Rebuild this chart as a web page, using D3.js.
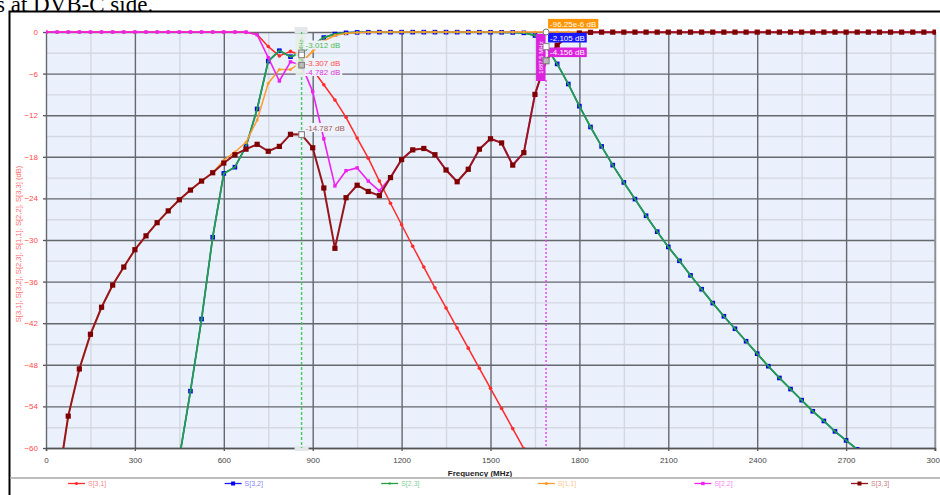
<!DOCTYPE html>
<html>
<head>
<meta charset="utf-8">
<script src="https://cdn.jsdelivr.net/npm/d3@7"></script>
<style>
  html, body { margin: 0; padding: 0; background: #fff; overflow: hidden; }
  svg { display: block; font-family: "Liberation Sans", Arial, sans-serif; }
</style>
</head>
<body>
<svg id="chart" width="940" height="495"></svg>
<script>
// Frequency grid of the sweep (MHz)
const freqMHz = [
  0, 37.5, 75, 112.5, 150, 187.5, 225, 262.5, 300, 337.5,
  375, 412.5, 450, 487.5, 525, 562.5, 600, 637.5, 675, 712.5,
  750, 787.5, 825, 862.5, 900, 937.5, 975, 1012.5, 1050, 1087.5,
  1125, 1162.5, 1200, 1237.5, 1275, 1312.5, 1350, 1387.5, 1425, 1462.5,
  1500, 1537.5, 1575, 1612.5, 1650, 1687.5, 1725, 1762.5, 1800, 1837.5,
  1875, 1912.5, 1950, 1987.5, 2025, 2062.5, 2100, 2137.5, 2175, 2212.5,
  2250, 2287.5, 2325, 2362.5, 2400, 2437.5, 2475, 2512.5, 2550, 2587.5,
  2625, 2662.5, 2700, 2737.5, 2775, 2812.5, 2850, 2887.5, 2925, 2962.5,
  3000
];

// S-parameters in dB, one value per frequency point (null = not recorded)
const s31 = [
  0, 0, 0, 0, 0, 0, 0, 0, 0, 0,
  0, 0, 0, 0, 0, 0, 0, 0, -0.05, -0.35,
  -2.1, -3.45, -2.8, -3.307, -5.4, -7.6, -9.8, -12.3, -15.3, -18.2,
  -21.5, -24.7, -27.8, -30.9, -33.9, -36.9, -39.8, -42.7, -45.6, -48.5,
  -51.4, -54.3, -57.2, -60.1, -63.0, null, null, null, null, null,
  null, null, null, null, null, null, null, null, null, null,
  null, null, null, null, null, null, null, null, null, null,
  null, null, null, null, null, null, null, null, null, null,
  null
];
const s32 = [
  null, null, null, null, null, null, null, null, null, null,
  null, null, -61.4, -51.8, -41.4, -29.6, -20.4, -19.5, -16.5, -11.1,
  -4.2, -2.7, -3.56, -3.012, -1.9, -0.8, -0.3, -0.12, -0.05, -0.03,
  -0.02, -0.02, -0.02, -0.02, -0.02, -0.02, -0.02, -0.02, -0.02, -0.03,
  -0.03, -0.04, -0.06, -0.12, -0.5, -2.105, -4.6, -7.5, -10.7, -13.7,
  -16.5, -19.2, -21.7, -24.1, -26.5, -28.8, -31.0, -33.0, -35.1, -37.1,
  -39.1, -41.0, -42.8, -44.6, -46.4, -48.2, -49.9, -51.5, -53.1, -54.7,
  -56.1, -57.6, -58.9, -60.2, -61.5, null, null, null, null, null,
  null
];
const s23 = [
  null, null, null, null, null, null, null, null, null, null,
  null, null, -61.4, -51.8, -41.4, -29.6, -20.4, -19.5, -16.5, -11.1,
  -4.2, -2.7, -3.56, -3.012, -1.9, -0.8, -0.3, -0.12, -0.05, -0.03,
  -0.02, -0.02, -0.02, -0.02, -0.02, -0.02, -0.02, -0.02, -0.02, -0.03,
  -0.03, -0.04, -0.06, -0.12, -0.5, -2.105, -4.6, -7.5, -10.7, -13.7,
  -16.5, -19.2, -21.7, -24.1, -26.5, -28.8, -31.0, -33.0, -35.1, -37.1,
  -39.1, -41.0, -42.8, -44.6, -46.4, -48.2, -49.9, -51.5, -53.1, -54.7,
  -56.1, -57.6, -58.9, -60.2, -61.5, null, null, null, null, null,
  null
];
const s11 = [
  null, -65.9, -55.4, -48.6, -43.6, -39.7, -36.5, -33.9, -31.4, -29.4,
  -27.5, -25.8, -24.2, -22.8, -21.5, -20.3, -18.5, -17.3, -15.9, -12.7,
  -7.4, -5.4, -5.4, -4.35, -2.8, -1.3, -0.5, -0.2, -0.08, -0.03,
  -0.001, -0.001, -0.001, -0.001, -0.001, -0.001, -0.001, -0.001, -0.001, -0.001,
  -0.001, -0.001, -0.001, -0.001, -0.001, -0.00009625, -0.0001, -0.0001, -0.0001, -0.0001,
  -0.0001, -0.0001, -0.0001, -0.0001, -0.0001, -0.0001, -0.0001, -0.0001, -0.0001, -0.0001,
  -0.0001, -0.0001, -0.0001, -0.0001, -0.0001, -0.0001, -0.0001, -0.0001, -0.0001, -0.0001,
  -0.0001, -0.0001, -0.0001, -0.0001, -0.0001, -0.0001, -0.0001, -0.0001, -0.0001, -0.0001,
  -0.0001
];
const s22 = [
  0, 0, 0, 0, 0, 0, 0, 0, 0, 0,
  0, 0, 0, 0, 0, 0, 0, 0, 0, -0.4,
  -3.7, -7.07, -4.3, -4.782, -8.6, -15.4, -22.2, -20.0, -19.6, -21.5,
  -22.9, -21.0, -18.4, -17.0, -16.8, -17.7, -19.9, -21.6, -19.8, -16.9,
  -15.4, -16.0, -19.2, -17.4, -9.0, -4.156, -1.9, -0.6, -0.15, -0.05,
  -0.02, -0.02, -0.02, -0.02, -0.02, -0.02, -0.02, -0.02, -0.02, -0.02,
  -0.02, -0.02, -0.02, -0.02, -0.02, -0.02, -0.02, -0.02, -0.02, -0.02,
  -0.02, -0.02, -0.02, -0.02, -0.02, -0.02, -0.02, -0.02, -0.02, -0.02,
  -0.02
];
const s33 = [
  null, -65.9, -55.4, -48.6, -43.6, -39.7, -36.5, -33.9, -31.4, -29.4,
  -27.5, -25.8, -24.2, -22.8, -21.5, -20.3, -18.9, -17.7, -16.9, -16.2,
  -17.2, -16.5, -14.76, -14.787, -16.7, -22.5, -31.2, -23.9, -22.1, -23.0,
  -23.6, -21.0, -18.4, -17.0, -16.8, -17.7, -19.9, -21.6, -19.8, -16.9,
  -15.4, -16.0, -19.2, -17.4, -9.0, -4.156, -1.9, -0.6, -0.15, -0.05,
  -0.02, -0.02, -0.02, -0.02, -0.02, -0.02, -0.02, -0.02, -0.02, -0.02,
  -0.02, -0.02, -0.02, -0.02, -0.02, -0.02, -0.02, -0.02, -0.02, -0.02,
  -0.02, -0.02, -0.02, -0.02, -0.02, -0.02, -0.02, -0.02, -0.02, -0.02,
  -0.02
];

const seriesNames = ["S[3,1]", "S[3,2]", "S[2,3]", "S[1,1]", "S[2,2]", "S[3,3]"];

// Axis ticks
const xTicks = [0, 300, 600, 900, 1200, 1500, 1800, 2100, 2400, 2700, 3000];
const xMinorTicks = [150, 450, 750, 1050, 1350, 1650, 1950, 2250, 2550, 2850];
const yTicks = [0, -6, -12, -18, -24, -30, -36, -42, -48, -54, -60];
const yMinorTicks = [-3, -9, -15, -21, -27, -33, -39, -45, -51, -57];

// Marker readouts
const markerFreqs = [862.5, 1687.5];
const markerTags = ["862.5 MHz", "1687.5 MHz"];

// ---------------------------------------------------------------------------
const svg = d3.select("#chart");
const plot = { left: 46, right: 935, top: 32, bottom: 448 };
const x = d3.scaleLinear().domain([0, 3000]).range([plot.left, plot.right]);
const y = d3.scaleLinear().domain([-60, 0]).range([plot.bottom, plot.top]);

// Page caption and frame around the figure
svg.append("text")
  .attr("x", -4).attr("y", 12)
  .attr("font-family", '"Liberation Serif", "Times New Roman", serif')
  .attr("font-size", 23)
  .attr("fill", "#000")
  .text("s at DVB-C side.");
svg.append("path")
  .attr("d", "M9.5,495 V11.5 H940")
  .attr("fill", "none").attr("stroke", "#000").attr("stroke-width", 2);

// Plot background
svg.append("rect")
  .attr("x", plot.left).attr("y", plot.top)
  .attr("width", plot.right - plot.left).attr("height", plot.bottom - plot.top)
  .attr("fill", "#eaf0fc");

const ph = plot.bottom - plot.top, pw = plot.right - plot.left;

function styleGrid(g, color, width) {
  g.select(".domain").remove();
  g.selectAll(".tick line").attr("stroke", color).attr("stroke-width", width);
  g.selectAll(".tick text").remove();
}

// Minor grid
svg.append("g").attr("transform", `translate(0,${plot.bottom})`)
  .call(d3.axisBottom(x).tickValues(xMinorTicks).tickSize(-ph))
  .call(g => styleGrid(g, "#d4d8e1", 1.4));
svg.append("g").attr("transform", `translate(${plot.left},0)`)
  .call(d3.axisLeft(y).tickValues(yMinorTicks).tickSize(-pw))
  .call(g => styleGrid(g, "#d4d8e1", 1.4));

// Major grid
svg.append("g").attr("transform", `translate(0,${plot.bottom})`)
  .call(d3.axisBottom(x).tickValues(xTicks).tickSize(-ph))
  .call(g => styleGrid(g, "#65686d", 1.4));
svg.append("g").attr("transform", `translate(${plot.left},0)`)
  .call(d3.axisLeft(y).tickValues(yTicks).tickSize(-pw))
  .call(g => styleGrid(g, "#65686d", 1.4));

// Right border of plot
svg.append("line")
  .attr("x1", plot.right).attr("x2", plot.right)
  .attr("y1", plot.top).attr("y2", plot.bottom + 3)
  .attr("stroke", "#9a9da3").attr("stroke-width", 1.5);

// Axes with labels
const xAxis = svg.append("g").attr("transform", `translate(0,${plot.bottom})`)
  .call(d3.axisBottom(x).tickValues(xTicks).tickSize(3).tickPadding(6).tickFormat(d3.format("d")));
xAxis.select(".domain").attr("stroke", "#555").attr("stroke-width", 1.5);
xAxis.selectAll(".tick line").attr("stroke", "#555").attr("stroke-width", 1.3);
xAxis.selectAll(".tick text").attr("font-size", 8).attr("fill", "#444")
  .attr("font-family", '"Liberation Sans", Arial, sans-serif');

const yAxis = svg.append("g").attr("transform", `translate(${plot.left},0)`)
  .call(d3.axisLeft(y).tickValues(yTicks).tickSize(3).tickPadding(5).tickFormat(d3.format("d")));
yAxis.select(".domain").remove();
yAxis.selectAll(".tick line").attr("stroke", "#555").attr("stroke-width", 1.3);
yAxis.selectAll(".tick text").attr("font-size", 8).attr("fill", "#ff4a4a")
  .attr("font-family", '"Liberation Sans", Arial, sans-serif');

// Axis titles
svg.append("text")
  .attr("transform", "translate(21,244) rotate(-90)")
  .attr("text-anchor", "middle")
  .attr("font-size", 7.6).attr("fill", "#ff6a6a")
  .text(seriesNames.join(", ") + " (dB)");
svg.append("text")
  .attr("x", 480).attr("y", 476)
  .attr("text-anchor", "middle")
  .attr("font-size", 8).attr("font-weight", "bold").attr("fill", "#222")
  .text("Frequency (MHz)");

// ---------------------------------------------------------------------------
// Curves
svg.append("defs").append("clipPath").attr("id", "plot-clip")
  .append("rect")
  .attr("x", plot.left).attr("y", plot.top - 3)
  .attr("width", pw + 1).attr("height", ph + 3);

const styles = [
  { values: s31, color: "#ff2a2a", width: 1.5, shape: "circle", size: 1.8, fill: "#ff2a2a" },
  { values: s32, color: "#1a1aff", width: 1.5, shape: "square", size: 4.6, fill: "#0000ee" },
  { values: s23, color: "#22a048", width: 1.8, shape: "square", size: 2.0, fill: "#1e9a40" },
  { values: s11, color: "#ff9a2e", width: 1.5, shape: "circle", size: 1.5, fill: "#ff9a2e" },
  { values: s22, color: "#ee22ee", width: 1.6, shape: "square", size: 3.4, fill: "#ee22ee" },
  { values: s33, color: "#96161c", width: 2.0, shape: "square", size: 5.2, fill: "#7f0000" }
];

const curves = svg.append("g").attr("clip-path", "url(#plot-clip)");
const line = d3.line()
  .defined(d => d.v !== null)
  .x(d => x(d.f))
  .y(d => y(d.v));

styles.forEach(s => {
  const pts = freqMHz.map((f, i) => ({ f, v: s.values[i] }));
  const g = curves.append("g");
  g.append("path")
    .datum(pts)
    .attr("fill", "none")
    .attr("stroke", s.color)
    .attr("stroke-width", s.width)
    .attr("stroke-linejoin", "round")
    .attr("d", line);
  const valid = pts.filter(d => d.v !== null);
  if (s.shape === "circle") {
    g.selectAll("circle").data(valid).join("circle")
      .attr("cx", d => x(d.f)).attr("cy", d => y(d.v))
      .attr("r", s.size).attr("fill", s.fill);
  } else {
    g.selectAll("rect").data(valid).join("rect")
      .attr("x", d => x(d.f) - s.size / 2).attr("y", d => y(d.v) - s.size / 2)
      .attr("width", s.size).attr("height", s.size).attr("fill", s.fill);
  }
});

// ---------------------------------------------------------------------------
// Markers
function fmtDb(v) {
  if (Math.abs(v) < 0.001) return (v * 1e6).toFixed(2) + "e-6 dB";
  return v.toFixed(3) + " dB";
}
const idxOf = f => freqMHz.indexOf(f);

// Marker 1
const m1x = x(markerFreqs[0]);
const m1i = idxOf(markerFreqs[0]);
svg.append("rect").attr("x", m1x - 7).attr("y", 27).attr("width", 13).attr("height", 6)
  .attr("fill", "#e4e7ea");
svg.append("rect").attr("x", m1x - 7).attr("y", plot.bottom - 2).attr("width", 14).attr("height", 5)
  .attr("fill", "#e4e7ea");
svg.append("line")
  .attr("x1", m1x).attr("x2", m1x).attr("y1", plot.top).attr("y2", plot.bottom)
  .attr("stroke", "#3fcf55").attr("stroke-width", 1.4).attr("stroke-dasharray", "3,2");
svg.append("rect").attr("x", m1x - 6).attr("y", 34).attr("width", 10).attr("height", 41)
  .attr("fill", "#e6eee4").attr("opacity", 0.85);
svg.append("text")
  .attr("transform", `translate(${m1x + 1.5},54) rotate(-90)`)
  .attr("text-anchor", "middle").attr("font-size", 6).attr("fill", "#5cbf5c")
  .text(markerTags[0]);

const m1Labels = [
  { values: s23, color: "#4cbb52", cy: 45 },
  { values: s31, color: "#ff4d4d", cy: 62.5 },
  { values: s22, color: "#dd33dd", cy: 71.5 },
  { values: s33, color: "#a25a5a", cy: 127.5 }
];
m1Labels.forEach(l => {
  const v = l.values[m1i];
  const t = svg.append("text")
    .attr("x", m1x + 4).attr("y", l.cy + 3)
    .attr("font-size", 8).attr("fill", l.color)
    .text(fmtDb(v));
  const bb = t.node().getBBox();
  svg.insert("rect", () => t.node())
    .attr("x", bb.x - 1).attr("y", l.cy - 4.5)
    .attr("width", bb.width + 3).attr("height", 9)
    .attr("fill", "#eef2fb");
});
// Marker 1 point symbols
[s23, s31, s22, s33].forEach((vals, k) => {
  const v = vals[m1i];
  svg.append("rect")
    .attr("x", m1x - 2.8).attr("y", y(v) - 2.8).attr("width", 5.6).attr("height", 5.6)
    .attr("fill", k === 2 ? "#bbb" : "#fff").attr("stroke", "#777").attr("stroke-width", 1);
});

// Marker 2
const m2x = x(markerFreqs[1]);
const m2i = idxOf(markerFreqs[1]);
svg.append("line")
  .attr("x1", m2x).attr("x2", m2x).attr("y1", 80).attr("y2", plot.bottom)
  .attr("stroke", "#ee44ee").attr("stroke-width", 1.5).attr("stroke-dasharray", "2,2");
svg.append("rect").attr("x", m2x - 10).attr("y", 34).attr("width", 9.5).attr("height", 47)
  .attr("fill", "#dd22dd");
svg.append("text")
  .attr("transform", `translate(${m2x - 3.5},57.5) rotate(-90)`)
  .attr("text-anchor", "middle").attr("font-size", 6).attr("fill", "#fff")
  .text(markerTags[1]);

const m2Labels = [
  { values: s11, bg: "#ff9500", cy: 23.7 },
  { values: s32, bg: "#1818ff", cy: 37.7 },
  { values: s22, bg: "#dd22dd", cy: 52.3 }
];
m2Labels.forEach(l => {
  const v = l.values[m2i];
  const t = svg.append("text")
    .attr("x", m2x + 4).attr("y", l.cy + 3)
    .attr("font-size", 8).attr("fill", "#fff")
    .text(fmtDb(v));
  const bb = t.node().getBBox();
  svg.insert("rect", () => t.node())
    .attr("x", m2x + 2).attr("y", l.cy - 4.8)
    .attr("width", bb.width + 4).attr("height", 9.6)
    .attr("fill", l.bg);
});
svg.append("circle").attr("cx", m2x).attr("cy", y(s11[m2i])).attr("r", 3)
  .attr("fill", "#fff").attr("stroke", "#777").attr("stroke-width", 1);
svg.append("rect").attr("x", m2x - 3).attr("y", y(s32[m2i]) - 3).attr("width", 6).attr("height", 6)
  .attr("fill", "#fff").attr("stroke", "#888").attr("stroke-width", 1);
svg.append("rect").attr("x", m2x - 3).attr("y", y(s22[m2i]) - 3).attr("width", 6).attr("height", 6)
  .attr("fill", "#bbb").attr("stroke", "#777").attr("stroke-width", 1);

// ---------------------------------------------------------------------------
// Legend
svg.append("line")
  .attr("x1", 10.5).attr("x2", 940).attr("y1", 478).attr("y2", 478)
  .attr("stroke", "#bdbdbd").attr("stroke-width", 2);

const legend = svg.append("g");
styles.forEach((s, k) => {
  const x0 = 68 + k * 156.6;
  const g = legend.append("g").attr("transform", `translate(${x0},483.5)`);
  g.append("line").attr("x1", 0).attr("x2", 17).attr("y1", 0).attr("y2", 0)
    .attr("stroke", s.color).attr("stroke-width", 1.3);
  if (s.shape === "circle") {
    g.append("circle").attr("cx", 8.5).attr("cy", 0).attr("r", 1.6).attr("fill", s.fill);
  } else {
    const sz = Math.min(s.size, 4);
    g.append("rect").attr("x", 8.5 - sz / 2).attr("y", -sz / 2)
      .attr("width", sz).attr("height", sz).attr("fill", s.fill);
  }
  g.append("text").attr("x", 20).attr("y", 2.6)
    .attr("font-size", 7).attr("fill", s.color).attr("fill-opacity", 0.6)
    .text(seriesNames[k]);
});
</script>
</body>
</html>
